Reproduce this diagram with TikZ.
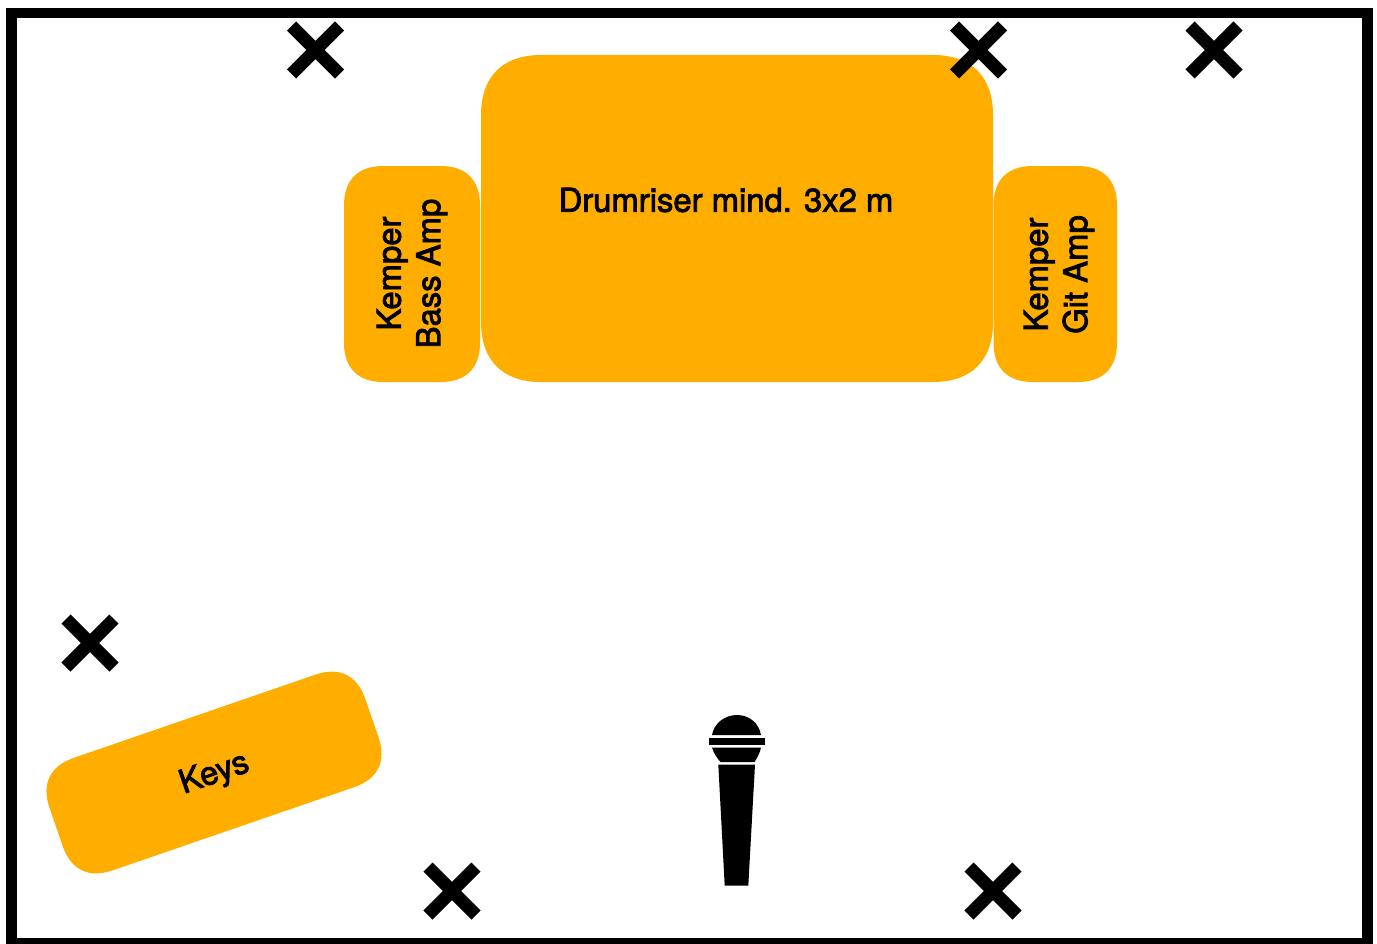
\documentclass[tikz,border=0pt]{standalone}
\usepackage{fontspec}
\setmainfont{TeX Gyre Heros}
\newfontfamily\labelfont{TeX Gyre Heros}[FakeBold=2.5]
\definecolor{amber}{HTML}{FFAE00}
% smooth ("continuous") rounded rectangle: x0,y0,x1,y1,r
\newcommand{\softbox}[5]{%
  \fill[amber] (#1+#5*1.4,#2)
    -- (#3-#5*1.4,#2)
    .. controls (#3-#5*0.5,#2) and (#3,#2+#5*0.5) .. (#3,#2+#5*1.4)
    -- (#3,#4-#5*1.4)
    .. controls (#3,#4-#5*0.5) and (#3-#5*0.5,#4) .. (#3-#5*1.4,#4)
    -- (#1+#5*1.4,#4)
    .. controls (#1+#5*0.5,#4) and (#1,#4-#5*0.5) .. (#1,#4-#5*1.4)
    -- (#1,#2+#5*1.4)
    .. controls (#1,#2+#5*0.5) and (#1+#5*0.5,#2) .. (#1+#5*1.4,#2) -- cycle;}
\newcommand{\crossmark}[2]{%
  \draw[crossline] (#1-24,#2-24) -- (#1+24,#2+24) (#1-24,#2+24) -- (#1+24,#2-24);}
\tikzset{
  crossline/.style={line width=9.6pt},
  frameline/.style={line width=7.9pt},
  label/.style={font=\labelfont\fontsize{24.6}{29.6}\selectfont, align=center, text=black, inner sep=0pt},
}
\begin{document}
\begin{tikzpicture}[x=0.75pt,y=-0.75pt]
\useasboundingbox (0,0) rectangle (1377,943);
\fill[white] (0,0) rectangle (1377,943);
\draw[frameline] (11.3,13) rectangle (1367.5,943.5);
\softbox{481}{55}{993}{382}{43}
\softbox{344}{166}{480}{382}{28}
\softbox{993.5}{166}{1117}{382}{28}
\begin{scope}[shift={(214,772.5)},rotate=19]
  \softbox{-167}{-59.5}{167}{59.5}{28}
  \node[label,transform shape] (keys) at (0,2) {Keys};
\end{scope}
\crossmark{315.5}{50}
\crossmark{978.5}{50}
\crossmark{1214}{50}
\crossmark{90}{643}
\crossmark{452}{891}
\crossmark{993}{891}
\node[label] (drums) at (726,200) {Drumriser mind. 3x2 m};
\node[label,rotate=90] (bass) at (412,273.5) {Kemper\\Bass Amp};
\node[label,rotate=90] (git) at (1059,274.5) {Kemper\\Git Amp};
% microphone
\fill (712,735) .. controls (714,723) and (725,715) .. (737,715) .. controls (749,715) and (759,723) .. (761,735) -- cycle;
\fill (708.5,737.5) rectangle (765,745);
\fill (712,747.5) -- (761,747.5) .. controls (760,753) and (757,758) .. (754.5,762) -- (720.5,762) .. controls (717,758) and (713.5,753) .. (712,747.5) -- cycle;
\fill (718.3,764.5) -- (755,764.5) -- (748.3,885.7) -- (724.7,885.7) -- cycle;
\end{tikzpicture}
\end{document}
